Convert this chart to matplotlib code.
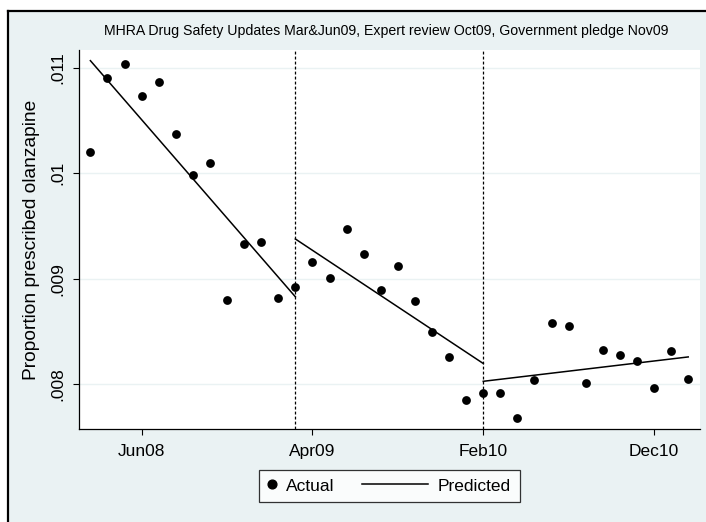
import numpy as np
import pandas as pd
import matplotlib
matplotlib.use('Agg')
import matplotlib.pyplot as plt
from matplotlib.lines import Line2D
from matplotlib.patches import Rectangle
from matplotlib.legend_handler import HandlerLine2D

plt.rcParams['font.family'] = ['Liberation Sans', 'DejaVu Sans']

# monthly series Mar08 .. Feb11
months = list(pd.date_range('2008-03-01', periods=36, freq='MS').strftime('%b%y'))
actual = [0.010197, 0.010903, 0.011036, 0.010728, 0.010868, 0.010371,
          0.009982, 0.010096, 0.008798, 0.009330, 0.009351, 0.008814,
          0.008918, 0.009161, 0.009007, 0.009475, 0.009237, 0.008893,
          0.009124, 0.008788, 0.008497, 0.008263, 0.007855, 0.007921,
          0.007921, 0.007684, 0.008041, 0.008579, 0.008548, 0.008012,
          0.008329, 0.008275, 0.008221, 0.007962, 0.008313, 0.008047]

# predicted segments (start month, end month, start value, end value)
seg_start = ['Mar08', 'Mar09', 'Feb10']
seg_end = ['Mar09', 'Feb10', 'Feb11']
seg_v0 = [0.011067, 0.009377, 0.008028]
seg_v1 = [0.008829, 0.008197, 0.008259]

interventions = ['Mar09', 'Feb10']
xtick_labels = ['Jun08', 'Apr09', 'Feb10', 'Dec10']
ytick_vals = [0.008, 0.009, 0.010, 0.011]
ytick_labels = ['.008', '.009', '.01', '.011']

title = 'MHRA Drug Safety Updates Mar&Jun09, Expert review Oct09, Government pledge Nov09'

bg = '#EAF2F3'
W, H = 706, 522

fig = plt.figure(figsize=(7.06, 5.22), dpi=100, facecolor='white')
# background panel with black top/left edge
fig.patches.append(Rectangle((8 / W, 0), 1, 1 - 11 / H, transform=fig.transFigure,
                             facecolor=bg, edgecolor='none', zorder=-10))
fig.lines.append(Line2D([8 / W, 1], [1 - 11 / H, 1 - 11 / H], transform=fig.transFigure,
                        color='black', lw=1.6))
fig.lines.append(Line2D([8 / W, 8 / W], [0, 1 - 11 / H], transform=fig.transFigure,
                        color='black', lw=1.6))

ax = fig.add_axes([79 / W, 1 - 429 / H, (700 - 79) / W, (429 - 50) / H])
ax.set_facecolor('white')

x = np.arange(len(months))
idx = {m: i for i, m in enumerate(months)}

for yv in ytick_vals:
    ax.axhline(yv, color=bg, lw=1.0, zorder=0)

for m in interventions:
    ax.axvline(idx[m], color='black', lw=0.9, dashes=(2.3, 1.7), zorder=1)

ax.scatter(x, actual, s=40, color='black', zorder=3, linewidths=0)
for s, e, v0, v1 in zip(seg_start, seg_end, seg_v0, seg_v1):
    ax.plot([idx[s], idx[e]], [v0, v1], color='black', lw=1.1, zorder=2)

ax.set_xlim(-0.667, 35.69)
ax.set_ylim(0.007576, 0.011168)

ax.set_xticks([idx[m] for m in xtick_labels])
ax.set_xticklabels(xtick_labels, fontsize=12.5)
ax.set_yticks(ytick_vals)
ax.set_yticklabels(ytick_labels, fontsize=12.5, rotation=90, va='center')
ax.tick_params(axis='x', length=4, width=0.8, pad=7)
ax.tick_params(axis='y', length=4.5, width=0.8, pad=5)

for sp in ['top', 'right']:
    ax.spines[sp].set_visible(False)
for sp in ['left', 'bottom']:
    ax.spines[sp].set_linewidth(0.9)

ax.set_ylabel('Proportion prescribed olanzapine', fontsize=13.8)
ax.yaxis.set_label_coords(-0.062, 0.5)

fig.text(386 / W, 1 - 30.5 / H, title, ha='center', va='center', fontsize=10.2)


class LongLineHandler(HandlerLine2D):
    def create_artists(self, legend, orig_handle, xdescent, ydescent, width, height,
                       fontsize, trans):
        y = (height - ydescent) / 2
        x1 = -xdescent + width
        ln = Line2D([x1 - 3.8 * fontsize, x1], [y, y], color='black', lw=1.1)
        ln.set_transform(trans)
        return [ln]


h_act = Line2D([], [], marker='o', ls='none', color='black', markersize=6.3)
h_pred = Line2D([], [], color='black', lw=1.1)
leg = fig.legend([h_act, h_pred], ['Actual', 'Predicted'], ncol=2,
                 loc='center', bbox_to_anchor=(389.5 / W, 1 - 486 / H),
                 fontsize=12.5, handlelength=0.5, handletextpad=0.55,
                 columnspacing=4.9, borderpad=0.5, frameon=True, fancybox=False,
                 handler_map={h_pred: LongLineHandler()})
leg.get_frame().set_edgecolor('black')
leg.get_frame().set_linewidth(0.9)

fig.savefig('out.png', dpi=100, facecolor='white')
